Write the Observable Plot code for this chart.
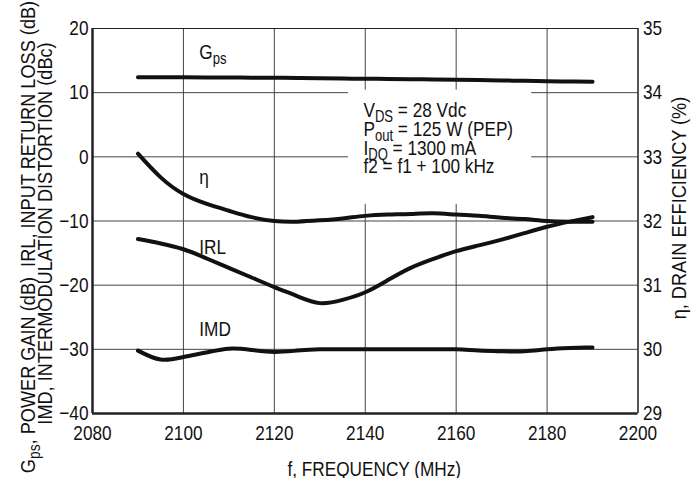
<!DOCTYPE html>
<html><head><meta charset="utf-8">
<script src="https://cdn.jsdelivr.net/npm/d3@7"></script>
<script src="https://cdn.jsdelivr.net/npm/@observablehq/plot@0.6"></script>
<style>
body{margin:0;background:#fff}
#chart svg{font-family:"Liberation Sans",Arimo,Arial,sans-serif;}
</style></head><body><div id="chart"></div>
<script>
// Frequency (MHz)
const freq = [2090,2095,2100,2105,2110,2115,2120,2125,2130,2135,2140,2145,2150,2155,2160,2165,2170,2175,2180,2185,2190];
// Gps, power gain (dB)
const gps  = [12.4,12.4,12.4,12.38,12.36,12.34,12.32,12.28,12.24,12.2,12.17,12.14,12.1,12.06,12.02,11.96,11.9,11.84,11.78,11.73,11.7];
// IRL, input return loss (dB)
const irl  = [-12.8,-13.5,-14.4,-15.8,-17.3,-18.8,-20.3,-21.7,-22.8,-22.3,-21.1,-19.2,-17.3,-15.9,-14.7,-13.8,-12.9,-11.9,-10.9,-10.1,-9.4];
// IMD, intermodulation distortion (dBc)
const imd  = [-30.2,-31.6,-31.2,-30.5,-29.9,-30.1,-30.4,-30.2,-30.0,-30.0,-30.0,-30.0,-30.0,-30.0,-30.0,-30.2,-30.3,-30.3,-30.0,-29.8,-29.7];
// eta, drain efficiency (%) - right axis
const eta  = [33.05,32.68,32.42,32.27,32.16,32.06,32.0,31.99,32.01,32.04,32.08,32.1,32.11,32.12,32.1,32.08,32.05,32.03,32.0,31.99,31.99];

const xTicks = [2080,2100,2120,2140,2160,2180,2200];
const yTicks = [-40,-30,-20,-10,0,10,20];
const etaTicks = [29,30,31,32,33,34,35];

const noteLines = ["V_{DS} = 28 Vdc","P_{out} = 125 W (PEP)","I_{DQ} = 1300 mA","f2 = f1 + 100 kHz"];
const noteLevels = [6.15,3.18,0.31,-2.55];
const curveLabels = ["G_{ps}","η","IRL","IMD"];
const curveLabelLevels = [15.3,-4.2,-15.2,-27.9];

// map right-axis efficiency (29..35 %) onto the left scale (-40..20)
const etaToLeft = e => (e - 29) * 10 - 40;

const rows = freq.map((f,i)=>({f, gps:gps[i], irl:irl[i], imd:imd[i], eta:etaToLeft(eta[i])}));
const notes = noteLines.map((t,i)=>({t, y:noteLevels[i]}));
const clabels = curveLabels.map((t,i)=>({t, y:curveLabelLevels[i]}));

const lineOpts = {x:"f", curve:"natural", stroke:"#111", strokeWidth:4, strokeLinecap:"round"};
const T = {fontSize:21, fill:"#111"};

const plot = Plot.plot({
  width:697, height:478,
  marginLeft:92, marginRight:59.5, marginTop:28, marginBottom:65,
  style:{fontSize:"21px", color:"#111", background:"#fff"},
  x:{domain:[2080,2200]},
  y:{domain:[-40,20]},
  marks:[
    Plot.gridX(xTicks,{stroke:"#444", strokeOpacity:1, strokeWidth:1}),
    Plot.gridY(yTicks,{stroke:"#444", strokeOpacity:1, strokeWidth:1}),
    Plot.rect([{x1:2136.3,x2:2176.6,y1:-7.4,y2:10.4}],{x1:"x1",x2:"x2",y1:"y1",y2:"y2",fill:"#fff"}),
    Plot.ruleX([2200],{stroke:"#222", strokeWidth:1.2}),
    Plot.ruleY([20],{stroke:"#222", strokeWidth:1.2}),
    Plot.ruleX([2080],{stroke:"#222", strokeWidth:2.5}),
    Plot.ruleY([-40],{stroke:"#222", strokeWidth:2.5}),
    Plot.line(rows,{...lineOpts, y:"gps"}),
    Plot.line(rows,{...lineOpts, y:"eta"}),
    Plot.line(rows,{...lineOpts, y:"irl"}),
    Plot.line(rows,{...lineOpts, y:"imd"}),
    Plot.axisX(xTicks,{...T, tickSize:0, tickPadding:12, label:null, tickFormat:d=>String(d)}),
    Plot.axisY(yTicks,{...T, anchor:"left", tickSize:0, tickPadding:4, label:null}),
    Plot.axisY(yTicks,{...T, anchor:"right", tickSize:0, tickPadding:5, label:null, tickFormat:d=>String(29+(d+40)/10)}),
    Plot.text(notes,{...T, x:()=>2139.6, y:"y", text:"t", textAnchor:"start", lineAnchor:"bottom"}),
    Plot.text(clabels,{...T, x:()=>2103.5, y:"y", text:"t", textAnchor:"start", lineAnchor:"bottom"}),
    Plot.text(["f, FREQUENCY (MHz)"],{...T, frameAnchor:"bottom", text:d=>d, textAnchor:"middle", lineAnchor:"middle", dy:56, dx:9}),
    Plot.text(["G_{ps}, POWER GAIN (dB)  IRL, INPUT RETURN LOSS (dB)"],{...T, frameAnchor:"left", text:d=>d, rotate:-90, textAnchor:"middle", lineAnchor:"middle", dx:-64.5, dy:16, className:"wide"}),
    Plot.text(["IMD, INTERMODULATION DISTORTION (dBc)"],{...T, frameAnchor:"left", text:d=>d, rotate:-90, textAnchor:"middle", lineAnchor:"middle", dx:-47, dy:12.5, className:"wide"}),
    Plot.text(["η, DRAIN EFFICIENCY (%)"],{...T, frameAnchor:"right", text:d=>d, rotate:-90, textAnchor:"middle", lineAnchor:"middle", dx:41, dy:-13, className:"wide"})
  ]
});

// subscripts: "_{...}" -> lowered, smaller tspan
d3.select(plot).selectAll("text").each(function(){
  const t = this.textContent;
  if (!t.includes("_{")) return;
  const parts = t.split(/(_\{[^}]*\})/).filter(p=>p);
  const sel = d3.select(this); sel.text(null);
  let low = false;
  parts.forEach(p=>{
    if (p.startsWith("_{")) {
      sel.append("tspan").attr("font-size","76%").attr("dy", low ? 0 : 5).text(p.slice(2,-1));
      low = true;
    } else {
      sel.append("tspan").attr("dy", low ? -5 : 0).text(p);
      low = false;
    }
  });
});

// condensed look: squeeze every text horizontally around its own anchor
d3.select(plot).selectAll("text").each(function(){
  const wide = this.closest(".wide") !== null;
  const x = this.getAttribute("x");
  let tr = this.getAttribute("transform") || "";
  if (x !== null) { tr += ` translate(${x},0)`; this.removeAttribute("x"); }
  this.setAttribute("transform", (tr + ` scale(${wide ? 0.865 : 0.82},1)`).trim());
  if (wide) this.style.whiteSpace = "pre";
});

document.getElementById("chart").appendChild(plot);
</script></body></html>
